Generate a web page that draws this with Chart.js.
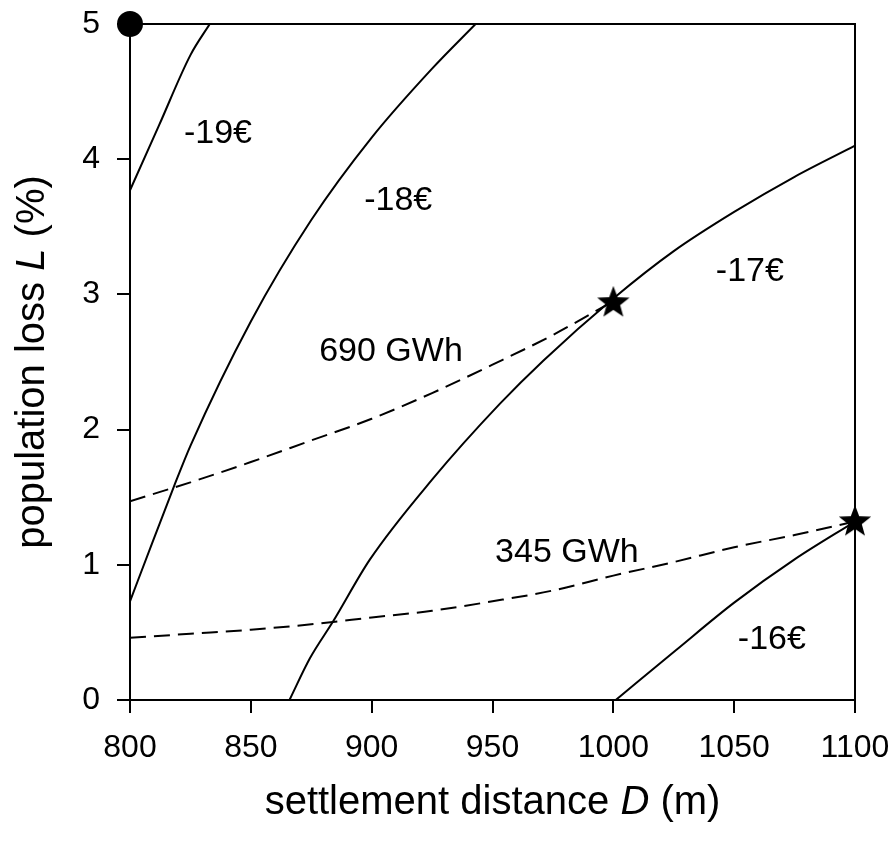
<!DOCTYPE html>
<html>
<head>
<meta charset="utf-8">
<script src="https://cdn.jsdelivr.net/npm/chart.js@4"></script>
<style>
  html, body { margin: 0; padding: 0; background: #fff; }
</style>
</head>
<body>
<canvas id="chart" width="893" height="841"></canvas>
<script>
const FONT = '"Liberation Sans", Arial, Helvetica, sans-serif';

// cost contour lines (settlement distance D in m, population loss L in %)
const cost19D = [800, 812, 825, 833];
const cost19L = [3.77, 4.25, 4.77, 5.0];

const cost18D = [800, 809.6, 818.2, 825, 850, 875, 900, 925, 943];
const cost18L = [0.73, 1.18, 1.58, 1.88, 2.80, 3.55, 4.16, 4.67, 5.0];

const cost17D = [866, 874.5, 884, 899.3, 925, 953, 971, 1000, 1025, 1050, 1075, 1100];
const cost17L = [0.0, 0.31, 0.58, 1.04, 1.63, 2.19, 2.51, 2.97, 3.32, 3.61, 3.87, 4.10];

const cost16D = [1001, 1026, 1050, 1075, 1100];
const cost16L = [0.0, 0.37, 0.72, 1.04, 1.32];

// energy iso-lines (dashed)
const energyD = [800, 825, 850, 875, 900, 925, 950, 975, 1000, 1025, 1050, 1075, 1100];
const gwh690L = [1.47, 1.61, 1.76, 1.92, 2.08, 2.27, 2.48, 2.70, 2.95];
const gwh345L = [0.46, 0.49, 0.52, 0.56, 0.61, 0.66, 0.73, 0.81, 0.92, 1.02, 1.13, 1.22, 1.32];

// special points
const startPoint = [{ x: 800, y: 5 }];
const optimumPoints = [{ x: 1000, y: 2.95 }, { x: 1100, y: 1.33 }];

// in-plot labels
const labelTexts = ['-19€', '-18€', '-17€', '690 GWh', '345 GWh', '-16€'];
const labelD = [836.4, 911, 1056.5, 908, 980.8, 1065.6];
const labelL = [4.19, 3.69, 3.17, 2.58, 1.09, 0.45];

const xTicks = [800, 850, 900, 950, 1000, 1050, 1100];
const yTicks = [0, 1, 2, 3, 4, 5];

function pairs(xs, ys) {
  return ys.map((y, i) => ({ x: xs[i], y: y }));
}

// filled five pointed star for the optimum markers
function makeStar(r) {
  const c = document.createElement('canvas');
  const s = Math.ceil(r * 2) + 2;
  c.width = s;
  c.height = s;
  const g = c.getContext('2d');
  g.beginPath();
  for (let i = 0; i < 10; i++) {
    const rad = i % 2 === 0 ? r : r * 0.42;
    const a = -Math.PI / 2 + i * Math.PI / 5;
    const px = s / 2 + rad * Math.cos(a);
    const py = s / 2 + rad * Math.sin(a) + r * 0.1;
    if (i === 0) g.moveTo(px, py); else g.lineTo(px, py);
  }
  g.closePath();
  g.fillStyle = '#000';
  g.fill();
  return c;
}
const starImg = makeStar(17);

function contour(data) {
  return {
    data: data,
    borderColor: '#000',
    borderWidth: 2,
    pointRadius: 0,
    fill: false,
    cubicInterpolationMode: 'monotone'
  };
}

function dashed(data) {
  const d = contour(data);
  d.borderDash = [16, 8];
  return d;
}

const frame = {
  id: 'frame',
  beforeDatasetsDraw(chart) {
    const a = chart.chartArea;
    const ctx = chart.ctx;
    ctx.save();
    ctx.strokeStyle = '#000';
    ctx.lineWidth = 2;
    ctx.strokeRect(a.left, a.top, a.right - a.left, a.bottom - a.top);
    ctx.restore();
  }
};

function drawMixed(ctx, parts, cx, cy, size) {
  let total = 0;
  parts.forEach(p => {
    ctx.font = (p.italic ? 'italic ' : '') + size + 'px ' + FONT;
    p.w = ctx.measureText(p.t).width;
    total += p.w;
  });
  let x = cx - total / 2;
  parts.forEach(p => {
    ctx.font = (p.italic ? 'italic ' : '') + size + 'px ' + FONT;
    ctx.fillText(p.t, x, cy);
    x += p.w;
  });
}

const texts = {
  id: 'texts',
  afterDraw(chart) {
    const ctx = chart.ctx;
    const xs = chart.scales.x;
    const ys = chart.scales.y;
    const a = chart.chartArea;
    ctx.save();
    ctx.fillStyle = '#000';
    ctx.textBaseline = 'middle';
    ctx.textAlign = 'center';
    ctx.font = '34px ' + FONT;
    labelTexts.forEach((t, i) => {
      ctx.fillText(t, xs.getPixelForValue(labelD[i]), ys.getPixelForValue(labelL[i]));
    });

    ctx.textAlign = 'left';
    drawMixed(ctx, [{ t: 'settlement distance ' }, { t: 'D', italic: true }, { t: ' (m)' }],
      (a.left + a.right) / 2, 803, 40);

    ctx.translate(33, (a.top + a.bottom) / 2);
    ctx.rotate(-Math.PI / 2);
    drawMixed(ctx, [{ t: 'population loss ' }, { t: 'L', italic: true }, { t: ' (%)' }], 0, 0, 40);
    ctx.restore();
  }
};

new Chart(document.getElementById('chart'), {
  type: 'line',
  data: {
    datasets: [
      {
        data: startPoint,
        showLine: false,
        pointStyle: 'circle',
        pointRadius: 13,
        pointBackgroundColor: '#000',
        pointBorderColor: '#000',
        pointBorderWidth: 0,
        clip: false
      },
      {
        data: optimumPoints,
        showLine: false,
        pointStyle: starImg,
        pointRadius: 17,
        clip: false
      },
      contour(pairs(cost19D, cost19L)),
      contour(pairs(cost18D, cost18L)),
      contour(pairs(cost17D, cost17L)),
      contour(pairs(cost16D, cost16L)),
      dashed(pairs(energyD, gwh690L)),
      dashed(pairs(energyD, gwh345L))
    ]
  },
  options: {
    responsive: false,
    animation: false,
    layout: { padding: { top: 24, right: 38, left: 0, bottom: 0 } },
    plugins: {
      legend: { display: false },
      tooltip: { enabled: false }
    },
    scales: {
      x: {
        type: 'linear',
        min: 800,
        max: 1100,
        afterFit: s => { s.height = 141; s.paddingLeft = 0; s.paddingRight = 0; },
        afterBuildTicks: s => { s.ticks = xTicks.map(v => ({ value: v })); },
        ticks: { color: '#000', font: { family: FONT, size: 32 }, padding: 16, maxRotation: 0, callback: v => String(v) },
        grid: { drawOnChartArea: false, drawTicks: true, tickLength: 13, color: '#000', lineWidth: 2 },
        border: { color: '#000', width: 2 }
      },
      y: {
        type: 'linear',
        min: 0,
        max: 5,
        afterFit: s => { s.width = 130; s.paddingTop = 0; s.paddingBottom = 0; },
        afterBuildTicks: s => { s.ticks = yTicks.map(v => ({ value: v })); },
        ticks: { color: '#000', font: { family: FONT, size: 32 }, padding: 17, callback: v => String(v) },
        grid: { drawOnChartArea: false, drawTicks: true, tickLength: 13, color: '#000', lineWidth: 2 },
        border: { color: '#000', width: 2 }
      }
    }
  },
  plugins: [frame, texts]
});
</script>
</body>
</html>
